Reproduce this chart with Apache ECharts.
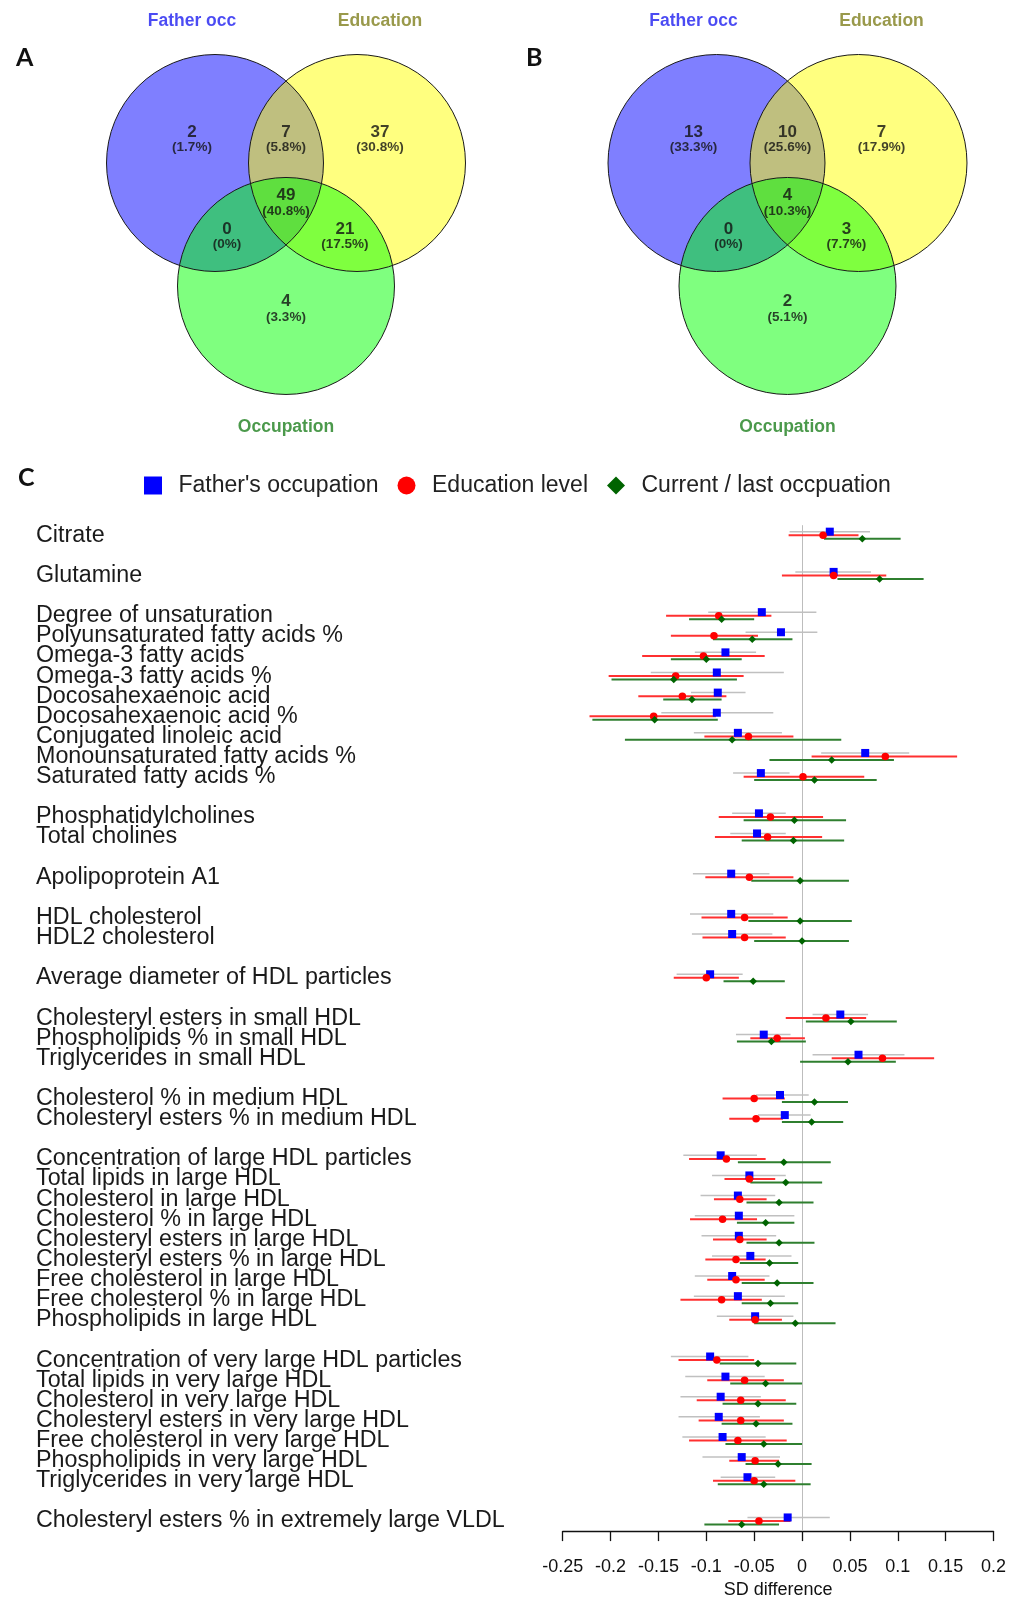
<!DOCTYPE html>
<html><head><meta charset="utf-8">
<script src="https://cdn.jsdelivr.net/npm/echarts@6/dist/echarts.min.js"></script>
<style>html,body{margin:0;padding:0;background:#fff}#c{width:1009px;height:1604px}</style>
</head><body><div id="c"></div>
<script>
const n = null;
// ---------- Venn data ----------
const vennSetNames = ['Father occ', 'Education', 'Occupation'];
const vennRegionNames = ['Father only', 'Father & Education', 'Education only', 'Father & Occupation', 'All three', 'Education & Occupation', 'Occupation only'];
const vennACounts = [2, 7, 37, 0, 49, 21, 4];
const vennAPct = ['1.7%', '5.8%', '30.8%', '0%', '40.8%', '17.5%', '3.3%'];
const vennBCounts = [13, 10, 7, 0, 4, 3, 2];
const vennBPct = ['33.3%', '25.6%', '17.9%', '0%', '10.3%', '7.7%', '5.1%'];

// ---------- Forest plot data ----------
const rowLabels = ['Citrate','','Glutamine','','Degree of unsaturation','Polyunsaturated fatty acids %','Omega-3 fatty acids','Omega-3 fatty acids %','Docosahexaenoic acid','Docosahexaenoic acid %','Conjugated linoleic acid','Monounsaturated fatty acids %','Saturated fatty acids %','','Phosphatidylcholines','Total cholines','','Apolipoprotein A1','','HDL cholesterol','HDL2 cholesterol','','Average diameter of HDL particles','','Cholesteryl esters in small HDL','Phospholipids % in small HDL','Triglycerides in small HDL','','Cholesterol % in medium HDL','Cholesteryl esters % in medium HDL','','Concentration of large HDL particles','Total lipids in large HDL','Cholesterol in large HDL','Cholesterol % in large HDL','Cholesteryl esters in large HDL','Cholesteryl esters % in large HDL','Free cholesterol in large HDL','Free cholesterol % in large HDL','Phospholipids in large HDL','','Concentration of very large HDL particles','Total lipids in very large HDL','Cholesterol in very large HDL','Cholesteryl esters in very large HDL','Free cholesterol in very large HDL','Phospholipids in very large HDL','Triglycerides in very large HDL','','Cholesteryl esters % in extremely large VLDL'];
const fatherEst = [0.029,n,0.033,n,-0.042,-0.022,-0.080,-0.089,-0.088,-0.089,-0.067,0.066,-0.043,n,-0.045,-0.047,n,-0.074,n,-0.074,-0.073,n,-0.096,n,0.040,-0.040,0.059,n,-0.023,-0.018,n,-0.085,-0.055,-0.067,-0.066,-0.066,-0.054,-0.073,-0.067,-0.049,n,-0.096,-0.080,-0.085,-0.087,-0.083,-0.063,-0.057,n,-0.015];
const fatherLo = [-0.013,n,-0.007,n,-0.098,-0.059,-0.112,-0.158,-0.116,-0.147,-0.113,0.020,-0.072,n,-0.073,-0.075,n,-0.114,n,-0.117,-0.115,n,-0.131,n,0.011,-0.069,0.011,n,-0.048,-0.046,n,-0.124,-0.094,-0.106,-0.112,-0.105,-0.094,-0.112,-0.113,-0.089,n,-0.137,-0.122,-0.127,-0.129,-0.125,-0.104,-0.085,n,-0.057];
const fatherHi = [0.071,n,0.072,n,0.015,0.016,-0.048,-0.019,-0.059,-0.030,-0.021,0.112,-0.013,n,-0.017,-0.017,n,-0.034,n,-0.030,-0.031,n,-0.062,n,0.069,-0.012,0.107,n,0.007,0.009,n,-0.047,-0.017,-0.028,-0.008,-0.027,-0.011,-0.034,-0.018,-0.009,n,-0.056,-0.039,-0.043,-0.044,-0.038,-0.023,-0.028,n,0.029];
const eduEst = [0.022,n,0.033,n,-0.087,-0.092,-0.103,-0.132,-0.125,-0.155,-0.056,0.087,0.001,n,-0.033,-0.036,n,-0.055,n,-0.060,-0.060,n,-0.100,n,0.025,-0.026,0.084,n,-0.050,-0.048,n,-0.079,-0.055,-0.065,-0.083,-0.065,-0.069,-0.069,-0.084,-0.049,n,-0.089,-0.060,-0.064,-0.064,-0.067,-0.049,-0.050,n,-0.045];
const eduLo = [-0.014,n,-0.021,n,-0.142,-0.137,-0.167,-0.202,-0.171,-0.222,-0.102,0.010,-0.061,n,-0.087,-0.091,n,-0.101,n,-0.105,-0.104,n,-0.134,n,-0.017,-0.054,0.031,n,-0.083,-0.076,n,-0.118,-0.081,-0.092,-0.117,-0.093,-0.101,-0.099,-0.127,-0.076,n,-0.129,-0.099,-0.110,-0.108,-0.118,-0.076,-0.093,n,-0.077];
const eduHi = [0.059,n,0.088,n,-0.032,-0.046,-0.039,-0.061,-0.079,-0.090,-0.009,0.162,0.065,n,0.022,0.021,n,-0.009,n,-0.015,-0.017,n,-0.066,n,0.067,0.003,0.138,n,-0.018,-0.020,n,-0.038,-0.028,-0.037,-0.047,-0.037,-0.038,-0.039,-0.042,-0.021,n,-0.050,-0.019,-0.017,-0.019,-0.016,-0.024,-0.007,n,-0.012];
const occEst = [0.063,n,0.081,n,-0.084,-0.052,-0.100,-0.134,-0.115,-0.154,-0.073,0.031,0.013,n,-0.008,-0.009,n,-0.002,n,-0.002,0.000,n,-0.051,n,0.051,-0.032,0.048,n,0.013,0.010,n,-0.019,-0.017,-0.024,-0.038,-0.024,-0.034,-0.026,-0.033,-0.007,n,-0.046,-0.038,-0.046,-0.048,-0.040,-0.025,-0.040,n,-0.063];
const occLo = [0.023,n,0.037,n,-0.118,-0.093,-0.137,-0.199,-0.145,-0.219,-0.185,-0.034,-0.050,n,-0.061,-0.063,n,-0.053,n,-0.056,-0.050,n,-0.082,n,0.004,-0.068,-0.002,n,-0.021,-0.021,n,-0.067,-0.054,-0.058,-0.068,-0.058,-0.065,-0.063,-0.063,-0.050,n,-0.086,-0.075,-0.083,-0.084,-0.080,-0.059,-0.088,n,-0.102];
const occHi = [0.103,n,0.127,n,-0.050,-0.010,-0.063,-0.068,-0.084,-0.088,0.041,0.096,0.078,n,0.046,0.044,n,0.049,n,0.052,0.049,n,-0.018,n,0.099,0.004,0.098,n,0.048,0.043,n,0.030,0.021,0.012,-0.008,0.013,-0.004,0.012,-0.004,0.035,n,-0.006,0.000,-0.006,-0.010,0.000,0.010,0.009,n,-0.024];
const seriesNames = ["Father's occupation", 'Education level', 'Current / last occpuation'];
const xMin = -0.25, xMax = 0.2, xStep = 0.05;

// ---------- layout / style (not data) ----------
const FONT = '"Liberation Sans", Arial, sans-serif';
const vennCenters = [[-0.5, 0], [0.5, 0], [0, -0.866]];
const vennR = 0.764;
const vennFill = ['rgba(0,0,255,0.5)', 'rgba(255,255,0,0.5)', 'rgba(0,255,0,0.5)'];
const vennRegionPos = [[-0.662, 0.165], [0, 0.165], [0.662, 0.165], [-0.415, -0.518], [0, -0.282], [0.415, -0.518], [0, -1.028]];
const vennTitlePos = [[-0.662, 1.0], [0.662, 1.0], [0, -1.86]];
const vennTitleColor = ['#1e1ef0', '#7f7f1e', '#1e7f1e'];

function vennSeries(idx, counts, pcts) {
  const circ = vennCenters.map((c, k) => [c[0], c[1], vennR, k]);
  const mk = (fill) => ({
    type: 'custom', xAxisIndex: idx, yAxisIndex: idx, clip: false, silent: true,
    encode: { x: 0, y: 1 }, data: circ, z: fill ? 1 : 2,
    renderItem: (p, api) => {
      const c = api.coord([api.value(0), api.value(1)]);
      const e = api.coord([api.value(0) + api.value(2), api.value(1)]);
      const r = Math.abs(e[0] - c[0]);
      const k = api.value(3);
      return { type: 'circle', shape: { cx: c[0], cy: c[1], r: r },
        style: fill ? { fill: vennFill[k], stroke: null } : { fill: null, stroke: '#1a1a1a', lineWidth: 1 } };
    }
  });
  return [mk(true), mk(false),
    { type: 'scatter', xAxisIndex: idx, yAxisIndex: idx, symbolSize: 1, silent: true, z: 5,
      itemStyle: { color: 'rgba(0,0,0,0)' },
      data: vennRegionPos.map((p, k) => ({ value: [p[0], p[1]], name: vennRegionNames[k] })),
      label: { show: true, position: 'inside', color: '#111', fontFamily: FONT,
        formatter: (pp) => '{n|' + counts[pp.dataIndex] + '}\n{p|(' + pcts[pp.dataIndex] + ')}',
        rich: { n: { fontSize: 17, fontWeight: 'bold', lineHeight: 16, fontFamily: FONT, color: '#111' },
                p: { fontSize: 13.5, fontWeight: 'bold', lineHeight: 15, fontFamily: FONT, color: '#111' } } } },
    { type: 'scatter', xAxisIndex: idx, yAxisIndex: idx, symbolSize: 1, silent: true, z: 5,
      itemStyle: { color: 'rgba(0,0,0,0)' },
      data: vennTitlePos.map((p, k) => ({ value: [p[0], p[1]], name: vennSetNames[k],
        label: { color: vennTitleColor[k] } })),
      label: { show: true, position: 'inside', fontSize: 17.5, fontWeight: 'bold', fontFamily: FONT,
        formatter: (pp) => pp.name } }
  ];
}

const barStyle = [
  { color: '#c0c0c0', w: 1.5, off: -3.6 },
  { color: '#ff3030', w: 2, off: 0 },
  { color: '#2f7f2f', w: 2, off: 3.4 }
];
const ests = [fatherEst, eduEst, occEst], los = [fatherLo, eduLo, occLo], his = [fatherHi, eduHi, occHi];
const markerSym = ['rect', 'circle', 'diamond'];
const markerSize = [8, 7.5, 7.5];
const markerColor = ['#0000ff', '#ff0000', '#006400'];

const forestSeries = [];
for (let s = 0; s < 3; s++) {
  const bs = barStyle[s];
  const d = [];
  rowLabels.forEach((lab, i) => { if (ests[s][i] != null) d.push([los[s][i], i, his[s][i]]); });
  forestSeries.push({
    type: 'custom', name: 'ci' + s, xAxisIndex: 2, yAxisIndex: 2, encode: { x: 0, y: 1 }, data: d, z: 2, silent: true,
    renderItem: (p, api) => {
      const a = api.coord([api.value(0), api.value(1)]);
      const b = api.coord([api.value(2), api.value(1)]);
      return { type: 'line', shape: { x1: a[0], y1: a[1] + bs.off, x2: b[0], y2: b[1] + bs.off },
        style: { stroke: bs.color, lineWidth: bs.w } };
    }
  });
}
for (let s = 0; s < 3; s++) {
  const d = [];
  rowLabels.forEach((lab, i) => { if (ests[s][i] != null) d.push([ests[s][i], i]); });
  forestSeries.push({
    type: 'scatter', name: seriesNames[s], xAxisIndex: 2, yAxisIndex: 2, data: d, z: 4 + s,
    symbol: markerSym[s], symbolSize: markerSize[s], symbolOffset: [0, barStyle[s].off],
    itemStyle: { color: markerColor[s], opacity: 1 },
    markLine: s === 0 ? { silent: true, symbol: 'none', label: { show: false }, z: 1,
      lineStyle: { color: '#bdbdbd', width: 1, type: 'solid' }, data: [{ xAxis: 0 }] } : undefined
  });
}

const hiddenVal = (gi, min, max) => ({ type: 'value', gridIndex: gi, min, max, show: false });

const option = {
  animation: false,
  backgroundColor: '#fff',
  grid: [
    { left: 73, top: 6.8, width: 426, height: 440.2 },
    { left: 574.5, top: 6.8, width: 426, height: 440.2 },
    { left: 562.7, right: 14.3, top: 525.2, bottom: 65.7 }
  ],
  xAxis: [
    hiddenVal(0, -1.5, 1.5), hiddenVal(1, -1.5, 1.5),
    { type: 'value', gridIndex: 2, min: xMin, max: xMax, interval: xStep,
      axisLine: { show: true, onZero: false, lineStyle: { color: '#111', width: 1.3 } },
      axisTick: { show: true, length: 10, lineStyle: { color: '#111', width: 1.3 } },
      splitLine: { show: false },
      axisLabel: { fontSize: 18, color: '#111', fontFamily: FONT, margin: 27,
        formatter: (v) => String(Number(v.toFixed(2))) },
      name: 'SD difference', nameLocation: 'middle', nameGap: 49,
      nameTextStyle: { fontSize: 18, color: '#111', fontFamily: FONT } }
  ],
  yAxis: [
    hiddenVal(0, -2, 1.1), hiddenVal(1, -2, 1.1),
    { type: 'category', gridIndex: 2, data: rowLabels, inverse: true,
      axisLine: { show: false }, axisTick: { show: false }, splitLine: { show: false },
      axisLabel: { interval: 0, align: 'left', margin: 526.7, fontSize: 23.3, color: '#1a1a1a', fontFamily: FONT } }
  ],
  legend: {
    data: [{ name: seriesNames[0], icon: 'rect' }, { name: seriesNames[1], icon: 'circle' }, { name: seriesNames[2], icon: 'diamond' }],
    left: 139, top: 469, itemWidth: 18, itemHeight: 18, itemGap: 19,
    formatter: '\u2002{name}',
    textStyle: { fontSize: 23, color: '#222', fontFamily: FONT }
  },
  graphic: [
    { type: 'text', left: 16, top: 45, style: { text: 'A', font: 'bold 25px Lato, "Open Sans", sans-serif', fill: '#111' } },
    { type: 'text', left: 526, top: 45, style: { text: 'B', font: 'bold 25px Lato, "Open Sans", sans-serif', fill: '#111' } },
    { type: 'text', left: 18, top: 465, style: { text: 'C', font: 'bold 25px Lato, "Open Sans", sans-serif', fill: '#111' } }
  ],
  series: [].concat(vennSeries(0, vennACounts, vennAPct), vennSeries(1, vennBCounts, vennBPct), forestSeries)
};
const chart = echarts.init(document.getElementById('c'), null, { renderer: 'canvas' });
chart.setOption(option);
</script></body></html>
